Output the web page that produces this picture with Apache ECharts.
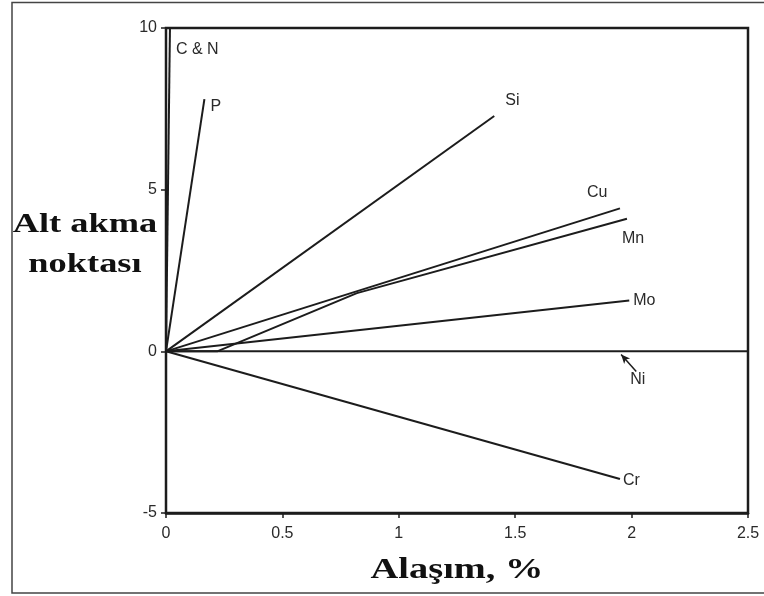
<!DOCTYPE html>
<html>
<head>
<meta charset="utf-8">
<script src="https://cdn.jsdelivr.net/npm/echarts@6/dist/echarts.min.js"></script>
<style>
  html, body { margin: 0; padding: 0; background: #fff; }
  #chart { width: 764px; height: 596px; }
</style>
</head>
<body>
<div id="chart"></div>
<script>
// Effect of alloying additions on the lower yield point
const xRange = [0, 2.5];
const yRange = [-5, 10];

const cnLine = [[0, 0], [0.017, 10]];
const pLine  = [[0, 0], [0.165, 7.8]];
const siLine = [[0, 0], [1.41, 7.28]];
const cuLine = [[0, 0], [1.95, 4.42]];
const mnLine = [[0, 0], [0.22, 0], [0.82, 1.8], [1.98, 4.1]];
const moLine = [[0, 0], [1.99, 1.57]];
const niLine = [[0, 0], [2.5, 0]];
const crLine = [[0, 0], [1.95, -3.95]];

const names = ['C & N', 'P', 'Si', 'Cu', 'Mn', 'Mo', 'Ni', 'Cr'];
const niPointer = [[2.02, -0.62], [1.955, -0.1]];

const ink = '#1c1c1c';
const labelFont = { fontFamily: 'Liberation Sans', fontSize: 16, color: '#2a2a2a' };

function endTag(data, text, pos) {
  return {
    silent: true,
    symbol: 'circle',
    symbolSize: 0,
    data: [{
      coord: data[data.length - 1],
      label: Object.assign({ show: true, formatter: text, position: pos,
        align: 'left', verticalAlign: 'middle' }, labelFont)
    }]
  };
}

function lineSeries(name, data, tagPos) {
  const s = {
    name: name,
    type: 'line',
    data: data,
    symbol: 'none',
    lineStyle: { color: ink, width: 2 },
    animation: false,
    z: 3
  };
  if (tagPos) s.markPoint = endTag(data, name, tagPos);
  return s;
}

const series = [
  lineSeries(names[0], cnLine, [6, 22]),
  lineSeries(names[1], pLine, [6, 7]),
  lineSeries(names[2], siLine, [11, -15]),
  lineSeries(names[3], cuLine, [-33, -16]),
  lineSeries(names[4], mnLine, [-5, 20]),
  lineSeries(names[5], moLine, [4, 0]),
  lineSeries(names[6], niLine, null),
  lineSeries(names[7], crLine, [3, 2])
];

// pointer and tag for Ni
series[6].markLine = {
  silent: true,
  animation: false,
  symbol: ['none', 'arrow'],
  symbolSize: [6, 9],
  lineStyle: { color: ink, width: 1.5, type: 'solid' },
  label: { show: false },
  data: [[{ coord: niPointer[0] }, { coord: niPointer[1] }]]
};
series[6].markPoint = {
  silent: true,
  symbol: 'circle',
  symbolSize: 0,
  data: [{
    coord: niPointer[0],
    label: Object.assign({ show: true, formatter: names[6], position: [-6, 8],
      align: 'left', verticalAlign: 'middle' }, labelFont)
  }]
};

const chart = echarts.init(document.getElementById('chart'));
chart.setOption({
  backgroundColor: '#ffffff',
  animation: false,
  grid: {
    left: 166, right: 16, top: 28, bottom: 83,
    show: true, borderColor: ink, borderWidth: 2.5, backgroundColor: 'transparent'
  },
  xAxis: {
    type: 'value', min: xRange[0], max: xRange[1], interval: 0.5,
    axisLine: { onZero: false, lineStyle: { color: ink, width: 2.5 } },
    axisTick: { show: true, inside: false, length: 5, lineStyle: { color: ink, width: 1.5 } },
    axisLabel: Object.assign({ margin: 13 }, labelFont),
    splitLine: { show: false }
  },
  yAxis: {
    type: 'value', min: yRange[0], max: yRange[1], interval: 5,
    axisLine: { onZero: false, lineStyle: { color: ink, width: 2 } },
    axisTick: { show: true, inside: false, length: 5, lineStyle: { color: ink, width: 1.5 } },
    axisLabel: Object.assign({ margin: 9 }, labelFont),
    splitLine: { show: false }
  },
  graphic: [
    {
      type: 'rect', silent: true, z: -1,
      shape: { x: 12, y: 2.5, width: 760, height: 590.5 },
      style: { fill: 'none', stroke: '#444', lineWidth: 1.5 }
    },
    {
      type: 'text', silent: true, x: 85, y: 245, scaleX: 1.3,
      style: {
        text: 'Alt akma\nnoktası', align: 'center', verticalAlign: 'middle',
        font: 'bold 28px "Liberation Serif"', fill: '#111', lineHeight: 40
      }
    },
    {
      type: 'text', silent: true, x: 457, y: 570, scaleX: 1.28,
      style: {
        text: 'Alaşım, %', align: 'center', verticalAlign: 'middle',
        font: 'bold 30px "Liberation Serif"', fill: '#111'
      }
    }
  ],
  series: series
});
</script>
</body>
</html>
